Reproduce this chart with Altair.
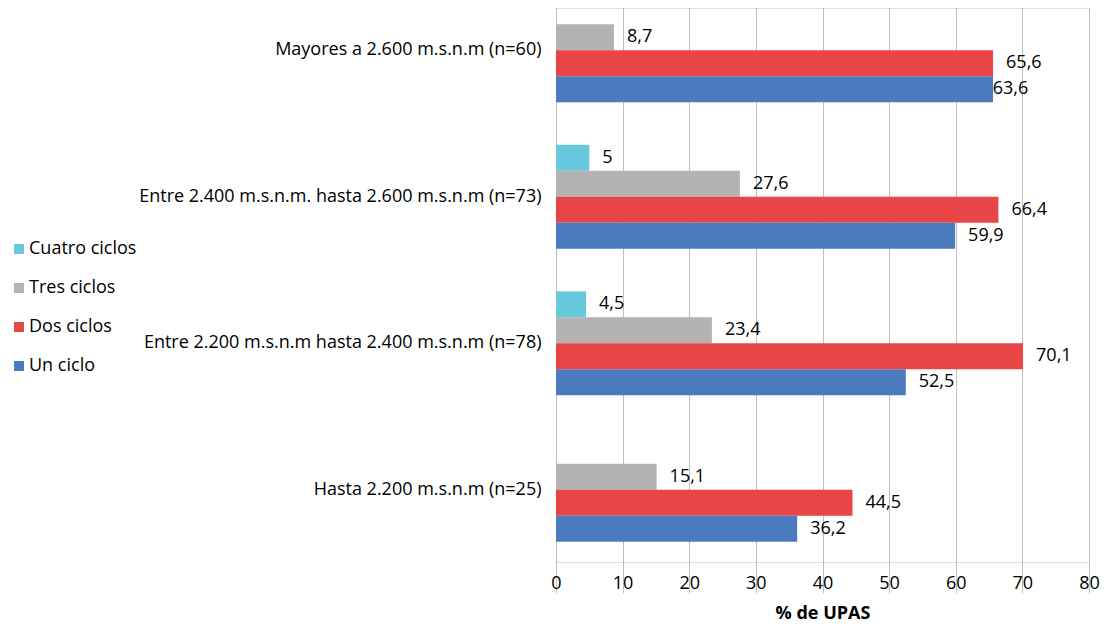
import altair as alt
import pandas as pd

categories = [
    "Mayores a 2.600 m.s.n.m (n=60)",
    "Entre 2.400 m.s.n.m. hasta 2.600 m.s.n.m (n=73)",
    "Entre 2.200 m.s.n.m hasta 2.400 m.s.n.m (n=78)",
    "Hasta 2.200 m.s.n.m (n=25)",
]
series = ["Cuatro ciclos", "Tres ciclos", "Dos ciclos", "Un ciclo"]
colors = ["#68C8DE", "#B3B3B3", "#E84547", "#4A7BBE"]

# bar lengths as drawn
cuatro_ciclos = [None, 5.0, 4.5, None]
tres_ciclos = [8.7, 27.6, 23.4, 15.1]
dos_ciclos = [65.6, 66.4, 70.1, 44.5]
un_ciclo = [65.6, 59.9, 52.5, 36.2]
# data labels as printed
cuatro_labels = [None, 5.0, 4.5, None]
tres_labels = [8.7, 27.6, 23.4, 15.1]
dos_labels = [65.6, 66.4, 70.1, 44.5]
un_labels = [63.6, 59.9, 52.5, 36.2]

x_ticks = [0, 10, 20, 30, 40, 50, 60, 70, 80]

rows = []
for s, vals, labs in zip(series,
                         [cuatro_ciclos, tres_ciclos, dos_ciclos, un_ciclo],
                         [cuatro_labels, tres_labels, dos_labels, un_labels]):
    for c, v, l in zip(categories, vals, labs):
        if v is None:
            continue
        txt = (f"{l:.1f}".rstrip("0").rstrip(".")).replace(".", ",")
        rows.append({"cat": c, "serie": s, "valor": v, "etiqueta": l, "texto": txt})
df = pd.DataFrame(rows)

FONT = "Open Sans"
FS = 18

y_enc = alt.Y(
    "cat:N",
    sort=categories,
    scale=alt.Scale(domain=categories, range=[-31, 555], paddingInner=0.291, paddingOuter=0.1455),
    axis=alt.Axis(title=None, ticks=False, labelPadding=15, labelFontSize=FS,
                  labelFont=FONT, labelColor="#000000", domainColor="#BFBFBF",
                  labelLimit=600, grid=False),
)
yoff = alt.YOffset("serie:N", sort=series, scale=alt.Scale(domain=series, paddingInner=0, paddingOuter=0))

bars = alt.Chart(df).mark_bar().encode(
    x=alt.X("valor:Q", scale=alt.Scale(domain=[0, 80], nice=False),
            axis=alt.Axis(values=x_ticks, title="% de UPAS", titleFont=FONT, titleFontSize=FS,
                          titleFontWeight="bold", titleColor="#000000", titlePadding=12,
                          labelFont=FONT, labelFontSize=FS, labelColor="#000000",
                          labelPadding=12, labelFlush=False, ticks=False, domain=False,
                          grid=True, gridColor="#BFBFBF", gridWidth=1)),
    y=y_enc,
    yOffset=yoff,
    color=alt.Color("serie:N", sort=series,
                    scale=alt.Scale(domain=series, range=colors),
                    legend=alt.Legend(title=None, orient="none", legendX=-546, legendY=232,
                                      symbolType="square", symbolSize=100, symbolStrokeWidth=0,
                                      labelFont=FONT, labelFontSize=FS, labelColor="#000000",
                                      labelOffset=1, rowPadding=21, padding=0)),
)

labels = alt.Chart(df).mark_text(align="left", baseline="middle", dx=13, font=FONT,
                                 fontSize=FS, color="#000000").encode(
    x=alt.X("etiqueta:Q"),
    y=alt.Y("cat:N", sort=categories),
    yOffset=alt.YOffset("serie:N", sort=series),
    text="texto:N",
)

chart = alt.layer(bars, labels).properties(
    width=533, height=554,
    autosize=alt.AutoSizeParams(type="none"),
    padding={"left": 548, "top": 0, "right": 12, "bottom": 62},
).configure_view(stroke=None).configure(background="white")

chart.save("out.html", embed_options={"renderer": "svg", "actions": False})
